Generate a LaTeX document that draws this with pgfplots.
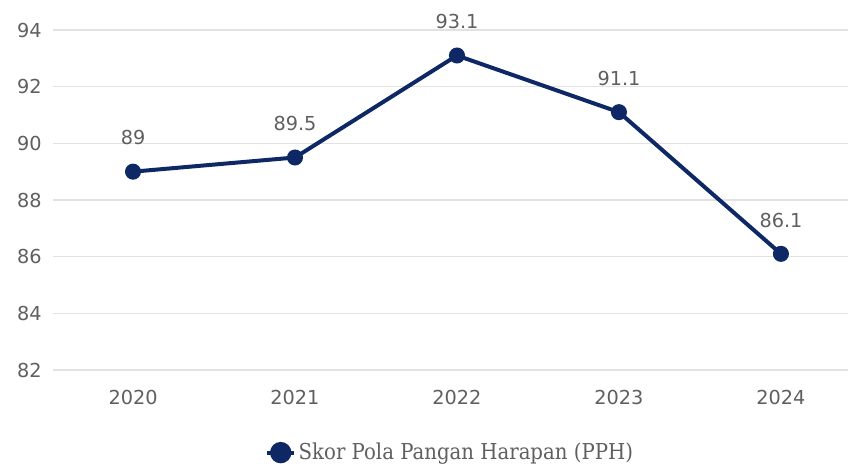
\documentclass[border=0pt]{standalone}
\usepackage{fontspec}
\setmainfont{DejaVu Sans}
\newfontfamily\legendfont{DejaVu Serif Condensed}
\usepackage{pgfplots}
\pgfplotsset{compat=1.18}
\definecolor{navy}{RGB}{14,40,102}
\definecolor{txtgray}{RGB}{95,95,95}
\definecolor{gridgray}{RGB}{226,226,226}

\begin{document}
\begin{tikzpicture}
\useasboundingbox (-39.75bp,-73.5bp) rectangle (596.25bp,277.5bp);
\begin{axis}[
    at={(0,0)}, anchor=south west,
    scale only axis,
    width=596.25bp, height=255bp,
    xmin=-0.494, xmax=4.414,
    ymin=82, ymax=94,
    ytick={82,84,...,94},
    xtick={0,1,2,3,4},
    xticklabels={2020,2021,2022,2023,2024},
    axis line style={draw=none},
    major tick length=0pt,
    ymajorgrids,
    grid style={gridgray, line width=1.1bp},
    tick label style={font=\fontsize{14.5}{16}\selectfont, text=txtgray},
    /pgf/number format/assume math mode=true,
    yticklabel style={xshift=-5bp},
    xticklabel style={yshift=-12bp},
    clip=false,
    nodes near coords,
    every node near coord/.append style={font=\fontsize{14.5}{16}\selectfont, text=txtgray, yshift=15bp},
    point meta=explicit symbolic,
    legend style={at={(0.5,-0.243)}, anchor=center, draw=none, fill=none,
        font=\legendfont\fontsize{16.5}{18}\selectfont, text=txtgray,
        inner sep=0pt},
    legend cell align=left,
    legend image code/.code={
        \draw[navy, line width=3bp] (-3bp,0bp) -- (17bp,0bp);
        \fill[navy] (7bp,0bp) circle (6.5bp);
    },
]
\addplot[navy, line width=3bp, mark=*, mark size=4.5bp, mark options={fill=navy}]
    coordinates {
    (0,89)[89] (1,89.5)[89.5] (2,93.1)[93.1] (3,91.1)[91.1] (4,86.1)[86.1]
};
\addlegendentry{Skor Pola Pangan Harapan (PPH)}
\end{axis}
\end{tikzpicture}
\end{document}
